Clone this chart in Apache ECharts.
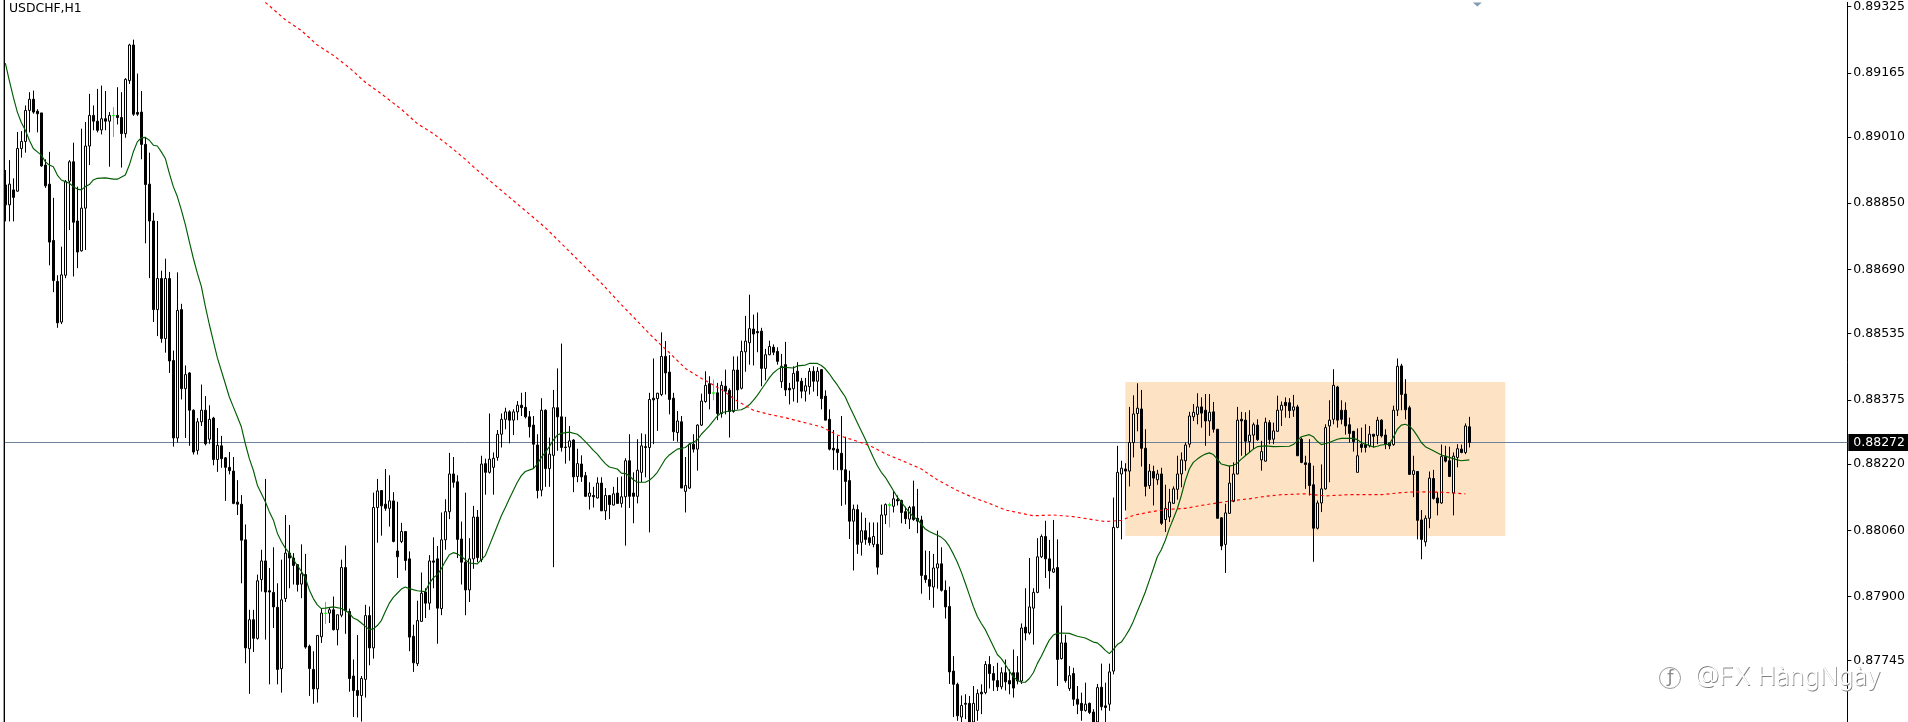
<!DOCTYPE html>
<html><head><meta charset="utf-8">
<style>html,body{margin:0;padding:0;background:#fff}#c{width:1908px;height:722px}</style>
<script src="https://cdn.jsdelivr.net/npm/echarts@6/dist/echarts.min.js"></script>
</head><body><div id="c"></div>
<script>
// prices are stored in 0.00001 units (88272 = 0.88272)
const symbolTitle = "USDCHF,H1";
const tickValues = [89325,89165,89010,88850,88690,88535,88375,88220,88060,87900,87745];
const lastPrice = 88272;
const dojiBars = [27,80,177,221];
const boxBars = [280,375];
const boxTop = 88418, boxBottom = 88046;
const opens = [
88894,88846,88882,88879,88982,88999,89074,89101,89072,89068,
88942,88896,88760,88661,88563,88676,88903,88950,88807,88735,
88838,88988,89062,89048,89027,89054,89048,89062,89062,89057,
89018,89146,89232,89069,89070,88992,88896,88807,88593,88668,
88523,88668,88470,88283,88593,88402,88440,88350,88253,88322,
88350,88280,88331,88231,88264,88235,88212,88203,88128,88123,
88037,87774,87844,87799,87941,87986,87914,87910,87874,87726,
87895,88005,87993,87977,87930,87953,87780,87724,87677,87803,
87860,87860,87868,87820,87855,87970,87864,87708,87673,87661,
87700,87854,87776,88115,88156,88123,88113,88131,88010,88033,
88057,87991,87804,87738,87840,87911,87884,87986,87991,87871,
88037,88105,88196,88177,88039,87983,87916,87991,88092,87989,
88221,88200,88212,88236,88292,88328,88346,88326,88346,88362,
88357,88334,88314,88266,88157,88350,88209,88241,88356,88334,
88261,88261,88278,88190,88220,88192,88142,88144,88138,88174,
88107,88144,88121,88150,88125,88141,88228,88150,88142,88200,
88262,88260,88379,88378,88388,88480,88442,88379,88296,88322,
88154,88162,88268,88256,88314,88371,88414,88392,88392,88342,
88408,88398,88347,88447,88403,88491,88513,88546,88540,88541,
88451,88484,88502,88492,88419,88460,88403,88402,88444,88420,
88396,88407,88444,88420,88448,88384,88328,88258,88256,88246,
88206,88180,88082,88110,88031,88059,88042,88026,88026,88002,
88097,88122,88118,88134,88132,88105,88087,88117,88089,88085,
87951,87941,87923,87969,87979,87915,87876,87720,87688,87609,
87642,87642,87597,87625,87669,87668,87736,87714,87697,87682,
87716,87697,87716,87716,87696,87826,87812,87872,87910,87996,
88045,87991,87959,87970,87750,87788,87678,87714,87652,87642,
87625,87642,87621,87597,87681,87636,87640,87720,88067,88196,
88208,88203,88272,88342,88353,88258,88168,88202,88182,88196,
88086,88092,88125,88159,88196,88228,88268,88334,88340,88358,
88350,88324,88346,88304,88090,88026,88101,88130,88196,88328,
88326,88274,88290,88314,88230,88227,88320,88280,88299,88350,
88369,88368,88350,88358,88280,88223,88222,88170,88065,88126,
88160,88312,88328,88406,88350,88350,88315,88299,88200,88268,
88267,88264,88292,88289,88326,88290,88271,88267,88350,88457,
88389,88356,88195,88202,88085,88032,88089,88185,88138,88126,
88239,88228,88150,88236,88256,88248,88310];
const closes = [
88846,88896,88864,88982,88999,89074,89101,89070,89066,88940,
88892,88756,88663,88561,88677,88902,88950,88804,88732,88838,
88988,89062,89048,89026,89054,89048,89062,89061,89057,89018,
89149,89232,89065,89065,88992,88895,88807,88593,88668,88523,
88668,88469,88283,88591,88402,88436,88350,88249,88322,88350,
88269,88328,88231,88265,88233,88212,88204,88125,88123,88036,
87776,87844,87799,87938,87986,87911,87911,87875,87724,87892,
88005,87993,87975,87929,87955,87778,87726,87677,87806,87860,
87859,87868,87820,87856,87970,87866,87702,87673,87661,87702,
87854,87776,88115,88155,88119,88113,88131,88033,87996,88057,
87987,87802,87740,87842,87908,87884,87986,87983,87872,88037,
88105,88196,88176,88038,87983,87916,87991,88092,87994,88220,
88200,88232,88234,88292,88328,88346,88326,88346,88362,88356,
88334,88310,88268,88156,88350,88209,88244,88356,88334,88260,
88260,88276,88189,88221,88189,88142,88150,88141,88174,88107,
88144,88122,88148,88125,88141,88228,88142,88142,88205,88264,
88260,88376,88375,88391,88480,88440,88376,88298,88324,88162,
88168,88268,88256,88314,88372,88410,88390,88391,88342,88410,
88396,88347,88447,88399,88492,88517,88547,88534,88537,88451,
88484,88504,88490,88468,88456,88399,88399,88439,88420,88396,
88409,88444,88420,88444,88378,88326,88256,88254,88248,88206,
88178,88082,88111,88026,88059,88038,88030,88045,87971,88097,
88122,88120,88136,88131,88103,88088,88115,88086,88082,87951,
87941,87925,87969,87979,87915,87875,87718,87688,87612,87637,
87640,87597,87642,87666,87665,87736,87714,87698,87682,87716,
87694,87689,87679,87696,87824,87812,87875,87910,87996,88045,
87991,87962,87967,87748,87788,87697,87709,87652,87640,87625,
87640,87620,87597,87680,87634,87632,87718,88067,88200,88210,
88203,88272,88341,88355,88258,88166,88203,88186,88196,88077,
88113,88128,88160,88196,88230,88266,88336,88345,88358,88343,
88324,88345,88304,88089,88022,88102,88174,88196,88326,88324,
88275,88290,88315,88279,88250,88321,88279,88300,88350,88362,
88361,88349,88358,88240,88224,88219,88168,88065,88126,88160,
88308,88326,88410,88326,88328,88312,88294,88274,88240,88260,
88260,88292,88287,88326,88288,88268,88264,88350,88456,88388,
88351,88195,88204,88084,88038,88089,88186,88137,88126,88238,
88227,88190,88239,88257,88248,88312,88272];
const lows = [
88806,88806,88806,88878,88960,88972,89021,89066,89021,88938,
88887,88700,88635,88549,88558,88669,88785,88673,88693,88733,
88737,88942,89026,89021,89016,89026,88938,89010,89040,88936,
89008,89138,89061,89061,88956,88753,88669,88563,88529,88513,
88489,88440,88262,88272,88376,88283,88264,88243,88243,88312,
88265,88269,88217,88201,88211,88131,88195,88123,88097,87932,
87739,87665,87766,87796,87912,87796,87688,87824,87688,87668,
87887,87920,87929,87912,87896,87774,87660,87641,87644,87788,
87834,87836,87818,87782,87850,87810,87670,87609,87608,87598,
87656,87734,87750,88030,88047,88107,88069,88031,87945,88029,
87963,87768,87718,87732,87839,87848,87868,87920,87786,87855,
88013,88087,88163,87993,87929,87855,87887,87967,87983,87983,
88146,88197,88146,88228,88260,88304,88270,88290,88326,88336,
88330,88284,88208,88137,88142,88165,88165,87971,88252,88250,
88221,88228,88152,88176,88177,88141,88110,88115,88137,88107,
88085,88087,88120,88124,88115,88023,88114,88077,88125,88176,
88188,88055,88268,88300,88384,88388,88340,88276,88274,88162,
88103,88160,88248,88204,88312,88368,88352,88374,88326,88332,
88340,88284,88344,88352,88400,88443,88460,88458,88490,88408,
88422,88483,88483,88460,88404,88384,88364,88371,88368,88379,
88371,88388,88395,88384,88352,88326,88253,88206,88205,88119,
88122,88039,87963,88003,87999,88025,88023,88019,87953,88002,
88075,88067,88103,88120,88077,88075,88063,88083,88053,87907,
87933,87892,87873,87919,87912,87847,87689,87609,87600,87588,
87604,87591,87591,87600,87616,87664,87678,87672,87672,87676,
87673,87664,87656,87688,87689,87794,87808,87784,87908,87993,
87945,87919,87957,87684,87748,87692,87672,87636,87616,87600,
87622,87616,87591,87591,87625,87597,87624,87712,88065,88038,
88108,88166,88236,88299,88214,88142,88160,88120,88170,88073,
88056,88080,88124,88134,88164,88204,88260,88324,88316,88308,
88264,88288,88296,88089,88012,87957,88100,88128,88195,88240,
88240,88248,88256,88276,88204,88226,88268,88268,88299,88312,
88332,88331,88334,88240,88222,88160,88144,87984,88062,88104,
88158,88176,88316,88308,88316,88291,88272,88250,88200,88248,
88248,88260,88260,88268,88284,88256,88256,88264,88336,88350,
88328,88195,88140,88038,87990,88021,88065,88134,88096,88124,
88224,88190,88096,88212,88246,88244,88260];
const highs = [
88930,88954,88910,89022,89024,89086,89118,89122,89077,89068,
88956,88974,88863,88676,88745,88906,88954,88996,88890,89030,
89046,89114,89086,89126,89134,89121,89070,89082,89130,89118,
89152,89235,89245,89163,89121,89010,88972,88827,88807,88687,
88716,88684,88494,88683,88607,88458,88442,88352,88331,88412,
88384,88362,88334,88307,88288,88237,88249,88237,88181,88145,
88074,87868,87868,87953,88013,88184,87969,88019,87932,87989,
88097,88073,88005,87978,88026,88003,87784,87768,87807,87871,
87887,87874,87900,87856,87989,88023,87871,87748,87807,87708,
87880,87876,88151,88184,88157,88208,88193,88152,88129,88078,
88057,88009,87832,87890,87958,87920,88000,88043,88022,88103,
88135,88247,88237,88193,88081,88151,88041,88119,88109,88240,
88233,88342,88248,88302,88342,88356,88350,88352,88372,88392,
88394,88348,88336,88292,88379,88352,88284,88399,88451,88511,
88334,88312,88280,88257,88241,88201,88176,88165,88188,88188,
88162,88144,88165,88188,88190,88234,88292,88200,88280,88294,
88292,88392,88475,88392,88538,88517,88483,88392,88348,88336,
88237,88270,88292,88316,88390,88444,88432,88424,88416,88420,
88448,88403,88480,88480,88518,88578,88629,88581,88586,88549,
88498,88518,88509,88502,88486,88515,88416,88456,88466,88428,
88428,88452,88456,88454,88448,88398,88352,88302,88288,88336,
88286,88204,88122,88122,88103,88090,88079,88079,88079,88122,
88125,88127,88154,88144,88134,88117,88119,88180,88160,88095,
88011,88010,88003,88059,88019,87939,87924,87756,87692,87661,
87664,87660,87684,87676,87688,87744,87756,87732,87740,87729,
87748,87724,87772,87756,87835,87920,87993,87920,88041,88050,
88083,88037,88085,88038,87878,87808,87732,87728,87684,87668,
87692,87644,87628,87689,87738,87692,87738,88139,88264,88228,
88222,88358,88386,88415,88399,88304,88220,88216,88206,88211,
88170,88160,88166,88240,88248,88272,88346,88365,88391,88381,
88389,88389,88370,88304,88092,88124,88216,88224,88358,88346,
88345,88350,88320,88328,88276,88332,88326,88320,88385,88371,
88381,88379,88387,88363,88284,88240,88280,88216,88132,88219,
88316,88374,88449,88409,88374,88369,88332,88300,88306,88308,
88316,88312,88292,88334,88328,88304,88272,88361,88475,88462,
88425,88361,88240,88203,88109,88096,88202,88206,88152,88267,
88264,88262,88248,88268,88267,88318,88334];
// moving averages: [bar, price]
const fastMA = [[0,89188],[1,89146],[2,89106],[3,89070],[4,89045],[5,89026],[6,89002],[7,88982],[8,88974],[9,88966],[10,88950],[11,88942],[12,88938],[13,88918],[14,88906],[15,88902],[16,88898],[17,88890],[18,88884],[19,88882],[20,88890],[21,88895],[22,88906],[23,88910],[25,88911],[27,88908],[28,88908],[30,88918],[31,88942],[32,88974],[33,88998],[34,89008],[35,89009],[36,89002],[37,88990],[38,88988],[39,88974],[40,88958],[41,88922],[42,88890],[43,88866],[44,88834],[45,88798],[46,88757],[47,88717],[48,88681],[49,88649],[50,88601],[51,88557],[52,88517],[53,88477],[55,88414],[56,88382],[57,88358],[58,88334],[59,88310],[60,88269],[61,88233],[62,88205],[63,88169],[65,88129],[66,88105],[67,88085],[68,88053],[69,88033],[70,88017],[71,88005],[72,87989],[73,87975],[74,87961],[75,87945],[76,87916],[77,87895],[78,87880],[79,87871],[80,87872],[82,87875],[84,87871],[86,87860],[87,87848],[88,87844],[89,87836],[90,87828],[91,87820],[92,87822],[93,87830],[94,87842],[95,87864],[96,87884],[97,87898],[98,87908],[99,87918],[100,87923],[101,87919],[103,87914],[105,87912],[106,87932],[107,87945],[108,87953],[109,87967],[110,87985],[111,88001],[112,88006],[113,88003],[114,87997],[115,87989],[116,87981],[118,87979],[119,87989],[120,87999],[121,88023],[122,88047],[123,88071],[124,88095],[125,88115],[126,88136],[127,88156],[128,88176],[129,88192],[130,88202],[132,88209],[133,88220],[134,88236],[135,88248],[136,88262],[137,88278],[138,88290],[139,88294],[141,88297],[143,88292],[144,88284],[145,88274],[146,88264],[147,88253],[148,88244],[149,88232],[150,88221],[151,88213],[153,88208],[154,88198],[155,88197],[156,88192],[157,88182],[158,88176],[160,88176],[161,88181],[162,88189],[163,88200],[164,88216],[165,88232],[166,88242],[167,88249],[168,88256],[170,88260],[171,88268],[173,88278],[174,88292],[175,88302],[176,88312],[177,88324],[178,88336],[179,88344],[181,88348],[184,88351],[185,88356],[186,88363],[187,88374],[188,88386],[189,88400],[190,88414],[191,88428],[192,88440],[193,88448],[194,88454],[197,88452],[198,88457],[200,88459],[201,88463],[203,88463],[204,88458],[205,88450],[206,88438],[207,88424],[208,88411],[209,88396],[210,88382],[211,88360],[212,88340],[213,88320],[214,88300],[215,88280],[216,88257],[217,88236],[218,88216],[219,88200],[220,88188],[221,88172],[222,88156],[223,88140],[224,88128],[225,88115],[226,88103],[227,88093],[228,88086],[229,88075],[230,88063],[231,88057],[233,88048],[234,88043],[235,88035],[236,88021],[237,88003],[238,87983],[239,87959],[240,87932],[241,87904],[242,87876],[243,87852],[244,87835],[245,87820],[246,87800],[247,87780],[248,87760],[249,87750],[250,87736],[251,87720],[252,87706],[253,87698],[254,87693],[255,87693],[256,87702],[257,87716],[258,87738],[259,87756],[260,87776],[261,87795],[262,87807],[263,87811],[264,87812],[266,87811],[268,87804],[270,87800],[272,87790],[273,87788],[274,87780],[275,87770],[276,87762],[277,87772],[278,87784],[279,87790],[280,87804],[281,87820],[282,87840],[283,87864],[284,87887],[285,87911],[286,87939],[287,87967],[288,87996],[289,88013],[290,88036],[291,88064],[292,88088],[293,88112],[294,88144],[295,88180],[296,88208],[297,88224],[298,88232],[299,88239],[300,88244],[301,88247],[302,88243],[303,88232],[304,88220],[306,88215],[307,88217],[308,88222],[309,88232],[310,88240],[311,88248],[312,88256],[313,88262],[315,88264],[317,88262],[321,88263],[322,88267],[323,88276],[324,88286],[326,88291],[327,88286],[328,88275],[329,88267],[331,88272],[333,88280],[334,88282],[337,88282],[338,88279],[339,88272],[340,88268],[342,88261],[343,88263],[344,88266],[346,88268],[347,88284],[348,88304],[349,88314],[350,88316],[351,88312],[352,88302],[353,88288],[354,88272],[355,88262],[357,88252],[359,88242],[361,88236],[363,88230],[364,88228],[366,88230]];
const slowMA = [[65,89335],[70,89293],[74,89267],[78,89232],[82,89207],[86,89177],[90,89142],[94,89114],[99,89077],[103,89042],[107,89018],[111,88988],[115,88956],[117,88938],[135,88791],[149,88657],[154,88605],[158,88565],[162,88525],[166,88489],[170,88451],[174,88427],[179,88400],[183,88372],[187,88350],[191,88340],[195,88332],[199,88322],[204,88310],[208,88290],[212,88278],[216,88265],[220,88245],[224,88229],[229,88208],[233,88182],[238,88156],[242,88139],[246,88125],[250,88109],[255,88099],[257,88095],[262,88097],[267,88093],[271,88087],[275,88081],[279,88084],[282,88096],[286,88104],[290,88110],[295,88113],[299,88120],[303,88126],[307,88132],[311,88136],[315,88142],[319,88146],[325,88148],[330,88143],[336,88146],[344,88146],[349,88151],[353,88153],[359,88152],[365,88148]];
const offChartMarker = [[368,89330]];

const slotCount = 461;
const categories = [];
for (let i = 0; i < slotCount; i++) categories.push(String(i));
const candleData = opens.map((o, i) => {
  const item = {value: [o, closes[i], lows[i], highs[i]]};
  if (dojiBars.includes(i)) item.itemStyle = {color:'#00ff00', color0:'#00ff00', borderColor:'#00ff00', borderColor0:'#00ff00'};
  return item;
});

const chart = echarts.init(document.getElementById('c'), null, {renderer:'canvas'});
const axisFont = 'DejaVu Sans';
chart.setOption({
  animation:false,
  backgroundColor:'#ffffff',
  grid:{left:3.33, right:60.67, top:0, bottom:0, containLabel:false},
  xAxis:{type:'category', data:categories, boundaryGap:true, show:false},
  yAxis:{type:'value', position:'right', min:87597, max:89335, scale:true, splitLine:{show:false},
    axisLine:{show:true, onZero:false, lineStyle:{color:'#000', width:1}},
    axisTick:{show:true, length:4, inside:false, lineStyle:{color:'#000'}, customValues:tickValues},
    axisLabel:{show:true, margin:6, color:'#000', fontFamily:axisFont, fontSize:12.5, customValues:tickValues,
      formatter:v=>(v/100000).toFixed(5)}},
  series:[
    {type:'line', name:'box', data:[], z:1, silent:true, symbol:'none',
      markArea:{silent:true, itemStyle:{color:'#FDE2C4'}, data:[[{xAxis:String(boxBars[0]), yAxis:boxTop},{xAxis:String(boxBars[1]), yAxis:boxBottom}]]}},
    {type:'candlestick', data:candleData, barWidth:3, z:3, silent:true,
      itemStyle:{color:'#ffffff', color0:'#000000', borderColor:'#000000', borderColor0:'#000000', borderWidth:1},
      markLine:{silent:true, symbol:'none', animation:false, z:2,
        lineStyle:{color:'#6f829c', width:1, type:'solid'},
        label:{show:true, position:'end', distance:1, formatter:()=>(lastPrice/100000).toFixed(5), color:'#fff', backgroundColor:'#000',
          fontFamily:axisFont, fontSize:12.5, padding:[2,3,2,5], width:52},
        data:[{yAxis:lastPrice}]}},
    {type:'line', data:fastMA, symbol:'none', z:4, silent:true, lineStyle:{color:'#005c00', width:1.15}},
    {type:'line', data:slowMA, symbol:'none', z:4, silent:true, lineStyle:{color:'#ff0000', width:1.15, type:[3,3]}},
    {type:'scatter', data:offChartMarker, symbol:'triangle', symbolRotate:180, symbolSize:[9,4], z:5, silent:true, itemStyle:{color:'#64829F'}}
  ],
  graphic:[
    {type:'rect', silent:true, shape:{x:3,y:0,width:1,height:722}, style:{fill:'#a0a0a0'}, z:10},
    {type:'rect', silent:true, shape:{x:4,y:0,width:1,height:722}, style:{fill:'#000'}, z:10},
    {type:'text', silent:true, left:9, top:3, z:10, style:{text:symbolTitle, fill:'#000', font:'12.4px "DejaVu Sans"'}},
    {type:'circle', silent:true, shape:{cx:1670,cy:678,r:10.5}, style:{fill:'none', stroke:'#9a9a9a', lineWidth:1}, z:10},
    {type:'text', silent:true, x:1664.7, y:667.5, z:10, style:{text:'ƒ', fill:'#888', font:'19px "Open Sans"'}},
    {type:'text', silent:true, x:1695.8, y:665.6, z:10, style:{text:'@FX HàngNgày', fill:'#808080', font:'300 25px "Inter"'}},
    {type:'text', silent:true, x:1695, y:665, z:11, style:{text:'@FX HàngNgày', fill:'#ffffff', font:'300 25px "Inter"'}}
  ]
});
</script></body></html>
